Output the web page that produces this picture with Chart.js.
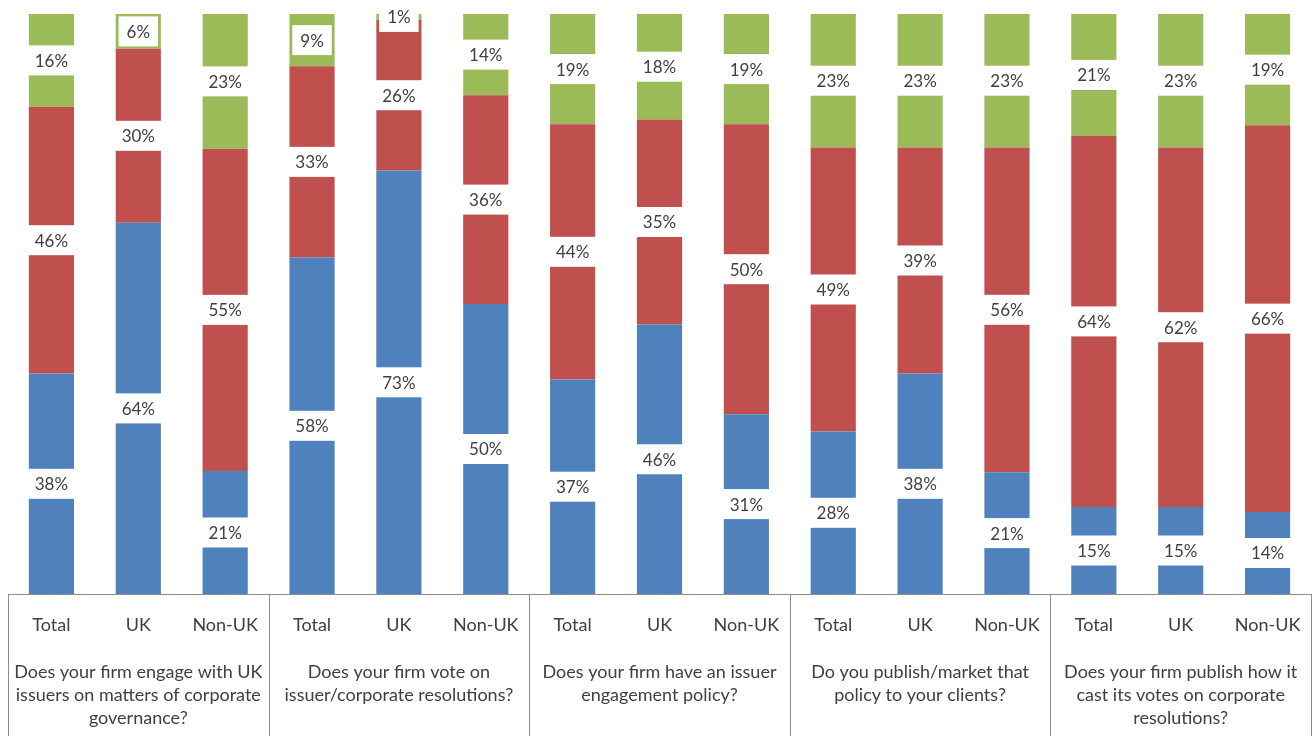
<!DOCTYPE html>
<html>
<head>
<meta charset="utf-8">
<script src="https://cdn.jsdelivr.net/npm/chart.js@4"></script>
<style>
  html, body { margin: 0; padding: 0; background: #ffffff; }
  #wrap { width: 1316px; height: 736px; position: relative; }
</style>
</head>
<body>
<div id="wrap"><canvas id="c" width="1316" height="736"></canvas></div>
<script>
// ---- data ----
const categories = ['Total', 'UK', 'Non-UK', 'Total', 'UK', 'Non-UK', 'Total', 'UK', 'Non-UK',
                    'Total', 'UK', 'Non-UK', 'Total', 'UK', 'Non-UK'];
const questions = [
  ['Does your firm engage with UK', 'issuers on matters of corporate', 'governance?'],
  ['Does your firm vote on', 'issuer/corporate resolutions?'],
  ['Does your firm have an issuer', 'engagement policy?'],
  ['Do you publish/market that', 'policy to your clients?'],
  ['Does your firm publish how it', 'cast its votes on corporate', 'resolutions?']
];
const blueValues  = [38, 64, 21, 58, 73, 50, 37, 46, 31, 28, 38, 21, 15, 15, 14];
const redValues   = [46, 30, 55, 33, 26, 36, 44, 35, 50, 49, 39, 56, 64, 62, 66];
const greenValues = [16,  6, 23,  9,  1, 14, 19, 18, 19, 23, 23, 23, 21, 23, 19];

// 100% stacked: normalise each column (as the original spreadsheet chart does)
const totals = categories.map((_, i) => blueValues[i] + redValues[i] + greenValues[i]);
const norm = arr => arr.map((v, i) => v / totals[i] * 100);

const FONT = 'Lato, "Open Sans", sans-serif';
const TEXT = '#404040';

const labelPlugin = {
  id: 'boxLabels',
  afterDatasetsDraw(chart) {
    const ctx = chart.ctx;
    ctx.save();
    ctx.font = '17px ' + FONT;
    ctx.textAlign = 'center';
    ctx.textBaseline = 'middle';
    chart.data.datasets.forEach((ds, di) => {
      const meta = chart.getDatasetMeta(di);
      meta.data.forEach((bar, i) => {
        const raw = ds.rawValues[i];
        const txt = raw + '%';
        const cy = (bar.y + bar.base) / 2;
        const w = ctx.measureText(txt).width + 16;
        const h = 30;
        ctx.fillStyle = '#ffffff';
        ctx.fillRect(bar.x - w / 2, cy - h / 2, w, h);
        ctx.fillStyle = TEXT;
        ctx.fillText(txt, bar.x, cy + 1);
      });
    });
    ctx.restore();
  }
};

const framePlugin = {
  id: 'frame',
  afterDraw(chart) {
    const ctx = chart.ctx;
    const ca = chart.chartArea;
    const x2 = chart.scales.x2;
    const n = questions.length;
    ctx.save();
    ctx.strokeStyle = '#8c8c8c';
    ctx.lineWidth = 1;
    ctx.beginPath();
    ctx.moveTo(ca.left, ca.bottom + 0.5);
    ctx.lineTo(ca.right, ca.bottom + 0.5);
    for (let k = 0; k <= n; k++) {
      const px = Math.round(x2.left + k * x2.width / n) + 0.5;
      ctx.moveTo(px, ca.bottom);
      ctx.lineTo(px, chart.height);
    }
    ctx.stroke();
    ctx.restore();
  }
};

new Chart(document.getElementById('c'), {
  type: 'bar',
  data: {
    labels: categories,
    datasets: [
      { label: 'Blue', data: norm(blueValues), rawValues: blueValues, backgroundColor: '#4F81BD' },
      { label: 'Red', data: norm(redValues), rawValues: redValues, backgroundColor: '#C0504D' },
      { label: 'Green', data: norm(greenValues), rawValues: greenValues, backgroundColor: '#9BBB59' }
    ]
  },
  options: {
    responsive: false,
    animation: false,
    devicePixelRatio: 1,
    layout: { padding: { top: 14, left: 8, right: 5, bottom: 0 } },
    plugins: { legend: { display: false }, tooltip: { enabled: false } },
    datasets: { bar: { categoryPercentage: 1, barPercentage: 0.52 } },
    scales: {
      y: { stacked: true, min: 0, max: 100, display: false },
      x: {
        stacked: true,
        grid: { display: false, drawTicks: false, tickLength: 0 },
        border: { display: false },
        ticks: { color: TEXT, font: { family: FONT, size: 18, lineHeight: 1.2 }, padding: 20, maxRotation: 0, autoSkip: false },
        afterFit(scale) { scale.height = 67; scale.paddingLeft = 0; scale.paddingRight = 0; }
      },
      x2: {
        type: 'category',
        labels: questions,
        position: 'bottom',
        offset: true,
        grid: { display: false, drawTicks: false, tickLength: 0 },
        border: { display: false },
        ticks: { color: TEXT, font: { family: FONT, size: 18, lineHeight: 1.28 }, padding: 0, maxRotation: 0, autoSkip: false },
        afterFit(scale) { scale.height = 75; scale.paddingLeft = 0; scale.paddingRight = 0; }
      }
    }
  },
  plugins: [labelPlugin, framePlugin]
});
</script>
</body>
</html>
